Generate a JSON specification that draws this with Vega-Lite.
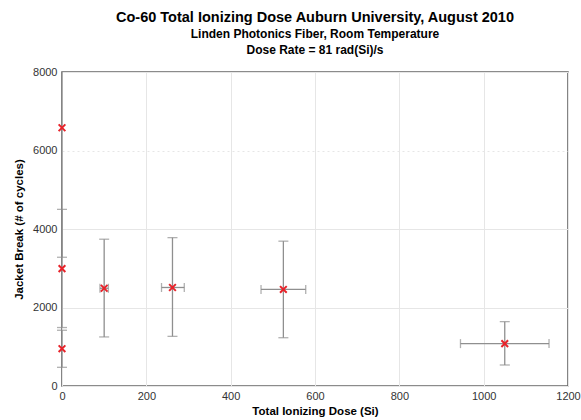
{
  "$schema": "https://vega.github.io/schema/vega-lite/v6.json",
  "autosize": "none",
  "width": 506,
  "height": 314,
  "padding": {"left": 62, "top": 72, "right": 13, "bottom": 34},
  "background": "white",
  "title": {
    "text": "Co-60 Total Ionizing Dose Auburn University, August 2010",
    "subtitle": ["Linden Photonics Fiber, Room Temperature", "Dose Rate = 81 rad(Si)/s"],
    "anchor": "middle",
    "frame": "group",
    "font": "Liberation Sans",
    "fontSize": 14.5,
    "fontWeight": "bold",
    "color": "black",
    "subtitleFont": "Liberation Sans",
    "subtitleFontSize": 12,
    "subtitleFontWeight": "bold",
    "subtitleColor": "black",
    "subtitleLineHeight": 16.5,
    "subtitlePadding": 3,
    "offset": 9
  },
  "config": {
    "view": {"stroke": "#666666", "strokeWidth": 1.6},
    "axis": {
      "labelFont": "Liberation Sans",
      "labelFontSize": 11,
      "labelColor": "#333333",
      "titleFont": "Liberation Sans",
      "titleFontSize": 11.5,
      "titleFontWeight": "bold",
      "titleColor": "black",
      "domain": false,
      "ticks": false,
      "gridColor": "#e6e6e6",
      "gridWidth": 1,
      "format": "d"
    }
  },
  "data": {
    "values": [
      {"dose": 0, "xlo": 0, "xhi": 0, "cycles": 6580, "lo": 3280, "hi": 9880},
      {"dose": 0, "xlo": 0, "xhi": 0, "cycles": 2990, "lo": 1490, "hi": 4500},
      {"dose": 0, "xlo": 0, "xhi": 0, "cycles": 950, "lo": 476, "hi": 1420},
      {"dose": 100, "xlo": 90, "xhi": 110, "cycles": 2490, "lo": 1250, "hi": 3740},
      {"dose": 262, "xlo": 236, "xhi": 290, "cycles": 2510, "lo": 1265, "hi": 3780},
      {"dose": 525, "xlo": 472, "xhi": 578, "cycles": 2460, "lo": 1230, "hi": 3690},
      {"dose": 1050, "xlo": 945, "xhi": 1155, "cycles": 1080, "lo": 535, "hi": 1640}
    ]
  },
  "encoding": {
    "x": {
      "field": "dose", "type": "quantitative",
      "scale": {"domain": [0, 1200], "nice": false},
      "axis": {"values": [0, 200, 400, 600, 800, 1000, 1200], "title": "Total Ionizing Dose (Si)", "labelPadding": 4, "titlePadding": 4, "labelFlush": false, "format": "d"}
    },
    "y": {
      "field": "cycles", "type": "quantitative",
      "scale": {"domain": [0, 8000], "nice": false},
      "axis": {
        "values": [0, 2000, 4000, 6000, 8000],
        "title": "Jacket Break (# of cycles)",
        "labelPadding": 5,
        "titlePadding": 8,
        "labelFlush": false,
        "format": "d",
        "gridDash": {"condition": {"test": "datum.value === 6000", "value": [2, 3]}, "value": []}
      }
    }
  },
  "layer": [
    {
      "mark": {"type": "rule", "color": "#8f8f8f", "strokeWidth": 1.3, "clip": true},
      "encoding": {"y": {"field": "lo", "type": "quantitative"}, "y2": {"field": "hi"}}
    },
    {
      "mark": {"type": "tick", "orient": "horizontal", "color": "#8f8f8f", "size": 10, "thickness": 1.3},
      "encoding": {"y": {"field": "lo", "type": "quantitative"}}
    },
    {
      "transform": [{"filter": "datum.hi <= 8000"}],
      "mark": {"type": "tick", "orient": "horizontal", "color": "#8f8f8f", "size": 10, "thickness": 1.3},
      "encoding": {"y": {"field": "hi", "type": "quantitative"}}
    },
    {
      "transform": [{"filter": "datum.xhi > datum.xlo"}],
      "mark": {"type": "rule", "color": "#8f8f8f", "strokeWidth": 1.3},
      "encoding": {"x": {"field": "xlo", "type": "quantitative"}, "x2": {"field": "xhi"}}
    },
    {
      "transform": [{"filter": "datum.xhi > datum.xlo"}],
      "mark": {"type": "tick", "orient": "vertical", "color": "#8f8f8f", "size": 9, "thickness": 1.3},
      "encoding": {"x": {"field": "xlo", "type": "quantitative"}}
    },
    {
      "transform": [{"filter": "datum.xhi > datum.xlo"}],
      "mark": {"type": "tick", "orient": "vertical", "color": "#8f8f8f", "size": 9, "thickness": 1.3},
      "encoding": {"x": {"field": "xhi", "type": "quantitative"}}
    },
    {
      "mark": {"type": "point", "shape": "M-1,-1L1,1M-1,1L1,-1", "size": 45, "stroke": "#e8232a", "strokeWidth": 2, "filled": false, "opacity": 1}
    }
  ]
}
